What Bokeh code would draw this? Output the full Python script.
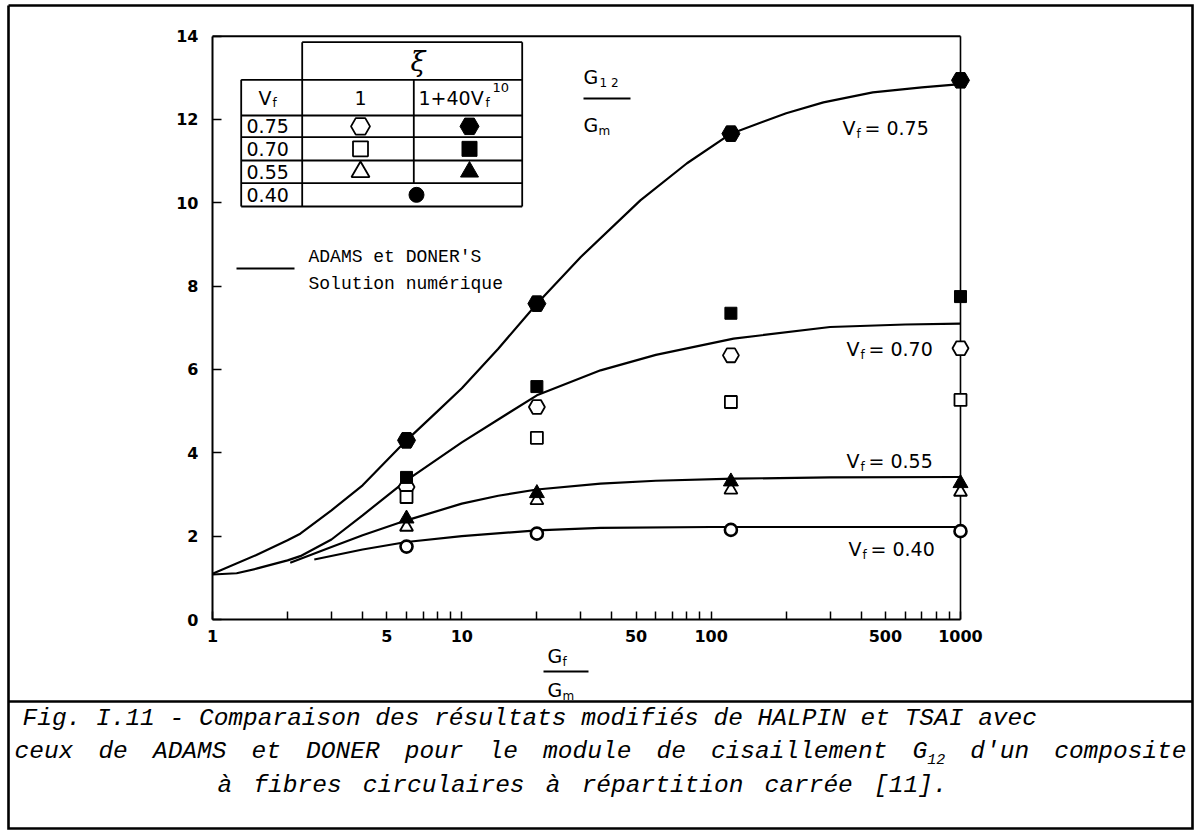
from bokeh.plotting import figure
from bokeh.models import (Range1d, FixedTicker, Label, LogAxis, LinearAxis,
                          LogScale, LinearScale)
from bokeh.embed import file_html
from bokeh.resources import INLINE

# ---------------- data ----------------
gf_gm = [6, 20, 120, 1000]

# xi = 1 + 40 Vf^10 (filled symbols)
vf75_mod = [4.30, 7.58, 11.66, 12.94]
vf70_mod = [3.41, 5.59, 7.35, 7.75]
vf55_mod = [2.42, 3.03, 3.31, 3.27]
# xi = 1 (open symbols)
vf75_xi1 = [3.18, 5.10, 6.34, 6.51]
vf70_xi1 = [2.94, 4.36, 5.22, 5.27]
vf55_xi1 = [2.22, 2.86, 3.11, 3.06]
# Vf = 0.40 (same for both xi)
vf40 = [1.75, 2.06, 2.15, 2.12]

# ADAMS et DONER numerical solution
adams75_x = [1, 1.5, 2, 2.25, 3, 4, 6, 8, 10, 14, 20, 30, 52, 80, 120, 200, 282, 445, 700, 1000]
adams75_y = [1.10, 1.55, 1.90, 2.06, 2.62, 3.22, 4.30, 5.00, 5.55, 6.50, 7.58, 8.70, 10.06, 10.95, 11.66, 12.15, 12.41, 12.65, 12.77, 12.85]
adams70_x = [1, 1.25, 1.5, 2, 2.25, 3, 4, 6, 10, 14, 20, 36, 60, 123, 300, 600, 1000]
adams70_y = [1.08, 1.11, 1.22, 1.42, 1.52, 1.92, 2.50, 3.34, 4.25, 4.80, 5.38, 5.98, 6.35, 6.74, 7.02, 7.08, 7.10]
adams55_x = [2.05, 3, 4, 6, 10, 14, 20, 36, 60, 123, 300, 1000]
adams55_y = [1.36, 1.74, 2.02, 2.38, 2.78, 2.97, 3.12, 3.26, 3.33, 3.38, 3.41, 3.42]
adams40_x = [2.56, 4, 6, 10, 20, 36, 100, 1000]
adams40_y = [1.44, 1.68, 1.86, 2.00, 2.14, 2.20, 2.22, 2.22]

y_ticks = [0, 2, 4, 6, 8, 10, 12, 14]
x_major = [1, 5, 10, 50, 100, 500, 1000]
x_labels = ["1", "5", "10", "50", "100", "500", "1000"]
x_minor = [2, 3, 4, 6, 7, 8, 9, 20, 30, 40, 60, 70, 80, 90,
           200, 300, 400, 600, 700, 800, 900]

vf_labels = ["= 0.75", "= 0.70", "= 0.55", "= 0.40"]
table_vf = ["0.75", "0.70", "0.55", "0.40"]

caption1 = "Fig. I.11 - Comparaison des résultats modifiés de HALPIN et TSAI avec"
caption2_words = ["ceux", "de", "ADAMS", "et", "DONER", "pour", "le", "module", "de",
                  "cisaillement", "G", "d'un", "composite"]
caption3_words = ["à", "fibres", "circulaires", "à", "répartition", "carrée", "[11]."]

# ---------------- layout ----------------
W, H = 1200, 835
AX_L, AX_B = 212, 619          # canvas pixel of x=1 and of y=0
PXDEC = 249.33                 # pixels per decade of Gf/Gm
PXU = 41.667                   # pixels per unit of G12/Gm

# page canvas: frame covers the whole canvas, default ranges are canvas pixels
p = figure(width=W, height=H, x_range=Range1d(0, W), y_range=Range1d(H, 0),
           x_axis_location=None, y_axis_location=None,
           output_backend="svg", toolbar_location=None, min_border=0)
p.outline_line_color = None
p.xgrid.visible = False
p.ygrid.visible = False
p.background_fill_color = "white"
p.border_fill_color = "white"

# chart coordinate system: log Gf/Gm horizontally, linear G12/Gm vertically
p.extra_x_ranges = {"g": Range1d(10 ** (-AX_L / PXDEC), 10 ** ((W - AX_L) / PXDEC))}
p.extra_x_scales = {"g": LogScale()}
p.extra_y_ranges = {"v": Range1d(-(H - AX_B) / PXU, AX_B / PXU)}
p.extra_y_scales = {"v": LinearScale()}
C = dict(x_range_name="g", y_range_name="v")

TICKFONT = "DejaVu Sans"

xa = LogAxis(x_range_name="g", y_range_name="v", fixed_location=0,
             ticker=FixedTicker(ticks=x_major, minor_ticks=x_minor),
             major_label_overrides={t: s for t, s in zip(x_major, x_labels)},
             bounds=(x_major[0], x_major[-1]))
xa.axis_line_width = 2.2
xa.axis_line_color = "black"
xa.major_tick_in = 8
xa.major_tick_out = 0
xa.minor_tick_in = 8
xa.minor_tick_out = 0
xa.major_tick_line_width = 1.5
xa.minor_tick_line_width = 1.5
xa.major_tick_line_color = "black"
xa.minor_tick_line_color = "black"
xa.major_label_text_font = TICKFONT
xa.major_label_text_font_style = "bold"
xa.major_label_text_font_size = "16px"
xa.major_label_text_color = "black"
xa.major_label_standoff = 10
p.add_layout(xa, "below")

ya = LinearAxis(x_range_name="g", y_range_name="v", fixed_location=1,
                ticker=FixedTicker(ticks=y_ticks), bounds=(y_ticks[0], y_ticks[-1]))
ya.axis_line_width = 2.0
ya.axis_line_color = "black"
ya.major_tick_in = 9
ya.major_tick_out = 0
ya.minor_tick_in = 0
ya.minor_tick_out = 0
ya.major_tick_line_width = 1.5
ya.major_tick_line_color = "black"
ya.major_label_text_font = TICKFONT
ya.major_label_text_font_style = "bold"
ya.major_label_text_font_size = "16px"
ya.major_label_text_color = "black"
ya.major_label_standoff = 14
p.add_layout(ya, "left")


def lab(text, x, y, size, font="DejaVu Sans", style="normal", align="left",
        baseline="middle"):
    p.add_layout(Label(x=x, y=y, text=text, text_font=font,
                       text_font_size=f"{size}px", text_font_style=style,
                       text_align=align, text_baseline=baseline,
                       text_color="black"))


def seg(x0, y0, x1, y1, width=1.8):
    p.segment(x0=x0, y0=y0, x1=x1, y1=y1, line_color="black", line_width=width)


# chart frame: top and right spines
p.line([x_major[0], x_major[-1]], [y_ticks[-1], y_ticks[-1]], line_color="black", line_width=2.0, **C)
p.line([x_major[-1], x_major[-1]], [y_ticks[0], y_ticks[-1]], line_color="black", line_width=1.6, **C)

# curves
for cx, cy in [(adams75_x, adams75_y), (adams70_x, adams70_y),
               (adams55_x, adams55_y), (adams40_x, adams40_y)]:
    p.line(cx, cy, line_color="black", line_width=2.2, **C)

# open symbols (xi = 1)
p.scatter(gf_gm, vf75_xi1, marker="hex", size=16, fill_color="white", line_color="black", line_width=1.8, **C)
p.scatter(gf_gm, vf70_xi1, marker="square", size=12, fill_color="white", line_color="black", line_width=1.8, **C)
p.scatter(gf_gm, vf55_xi1, marker="triangle", size=13, fill_color="white", line_color="black", line_width=1.8, **C)
p.scatter(gf_gm, vf40, marker="circle", size=12, fill_color="white", line_color="black", line_width=2.6, **C)
# filled symbols (xi = 1 + 40 Vf^10)
p.scatter(gf_gm, vf55_mod, marker="triangle", size=15, fill_color="black", line_color="black", **C)
p.scatter(gf_gm, vf70_mod, marker="square", size=12, fill_color="black", line_color="black", **C)
p.scatter(gf_gm, vf75_mod, marker="hex", size=18, fill_color="black", line_color="black", **C)

# ---------------- legend table (canvas pixels) ----------------
TL, TC1, TC2, TR = 240.7, 301.7, 413.3, 521.7
row_y = [41.7, 79.3, 115.0, 136.7, 160.0, 182.7, 206.0]
hx0 = [TC1] + [TL] * 6
hx1 = [TR] * 7
seg(hx0, row_y, hx1, row_y)
seg([TL, TC1, TC2, TR], [row_y[1], row_y[0], row_y[1], row_y[0]],
    [TL, TC1, TC2, TR], [row_y[6], row_y[6], row_y[5], row_y[6]])

lab("\u03be", 410, 61, 27, font="DejaVu Serif", style="italic")
lab("V", 258, 97, 19)
lab("f", 272, 102, 12)
lab("1", 360, 97, 19, align="center")
lab("1+40V", 418, 97, 19)
lab("f", 485, 102, 12)
lab("10", 492, 87, 13)
row_c = [(row_y[i] + row_y[i + 1]) / 2 for i in range(2, 6)]
for t, ry in zip(table_vf, row_c):
    lab(t, 246, ry, 19)
MC1, MC2 = 360, 469
p.scatter([MC1], [row_c[0]], marker="hex", size=19, fill_color="white", line_color="black", line_width=1.8)
p.scatter([MC1], [row_c[1]], marker="square", size=15, fill_color="white", line_color="black", line_width=1.8)
p.scatter([MC1], [row_c[2]], marker="triangle", size=18, fill_color="white", line_color="black", line_width=1.8)
p.scatter([MC2], [row_c[0]], marker="hex", size=19, fill_color="black", line_color="black")
p.scatter([MC2], [row_c[1]], marker="square", size=15, fill_color="black", line_color="black")
p.scatter([MC2], [row_c[2]], marker="triangle", size=18, fill_color="black", line_color="black")
p.scatter([416], [row_c[3]], marker="circle", size=15, fill_color="black", line_color="black")

# line legend
seg([236], [268], [294], [268], 2.2)
lab("ADAMS et DONER'S", 308, 256, 18, font="Liberation Mono")
lab("Solution numérique", 308, 283, 18, font="Liberation Mono")

# G12 / Gm
lab("G", 583, 76, 19)
lab("1 2", 599, 82, 12)
seg([583], [98], [630], [98], 1.8)
lab("G", 583, 124, 19)
lab("m", 598, 130, 12)

# Vf labels
for t, (lx, ly) in zip(vf_labels, [(842, 127), (846, 348), (846, 460), (848, 548)]):
    lab("V", lx, ly, 19)
    lab("f", lx + 14, ly + 6, 12)
    lab(t, lx + 22, ly, 19)

# Gf / Gm (x label)
lab("G", 547, 655, 19)
lab("f", 562, 661, 12)
seg([543], [671], [588], [671], 1.8)
lab("G", 547, 689, 19)
lab("m", 562, 695, 12)

# outer box and separator
p.line([8, 1192, 1192, 8, 8], [5, 5, 828, 828, 5], line_color="black", line_width=2.6,
       line_join="miter")
seg([8], [701], [1192], [701], 2.6)

# caption
CF = 24.5
CW = 0.6 * CF
SUBF = 15
lab(caption1, 22, 718, CF, font="Liberation Mono", style="italic")


def justified(words, x0, x1, y, sub_after=None):
    widths = []
    for w in words:
        wd = len(w) * CW
        if w == sub_after:
            wd += 2 * 0.6 * SUBF
        widths.append(wd)
    gap = (x1 - x0 - sum(widths)) / (len(words) - 1)
    cx = x0
    for w, wd in zip(words, widths):
        lab(w, cx, y, CF, font="Liberation Mono", style="italic")
        if w == sub_after:
            lab("12", cx + CW, y + 7, SUBF, font="Liberation Mono", style="italic")
        cx += wd + gap


justified(caption2_words, 14, 1186, 751, sub_after="G")
justified(caption3_words, 217, 947, 785)

open("out.html", "w").write(file_html(p, INLINE))
